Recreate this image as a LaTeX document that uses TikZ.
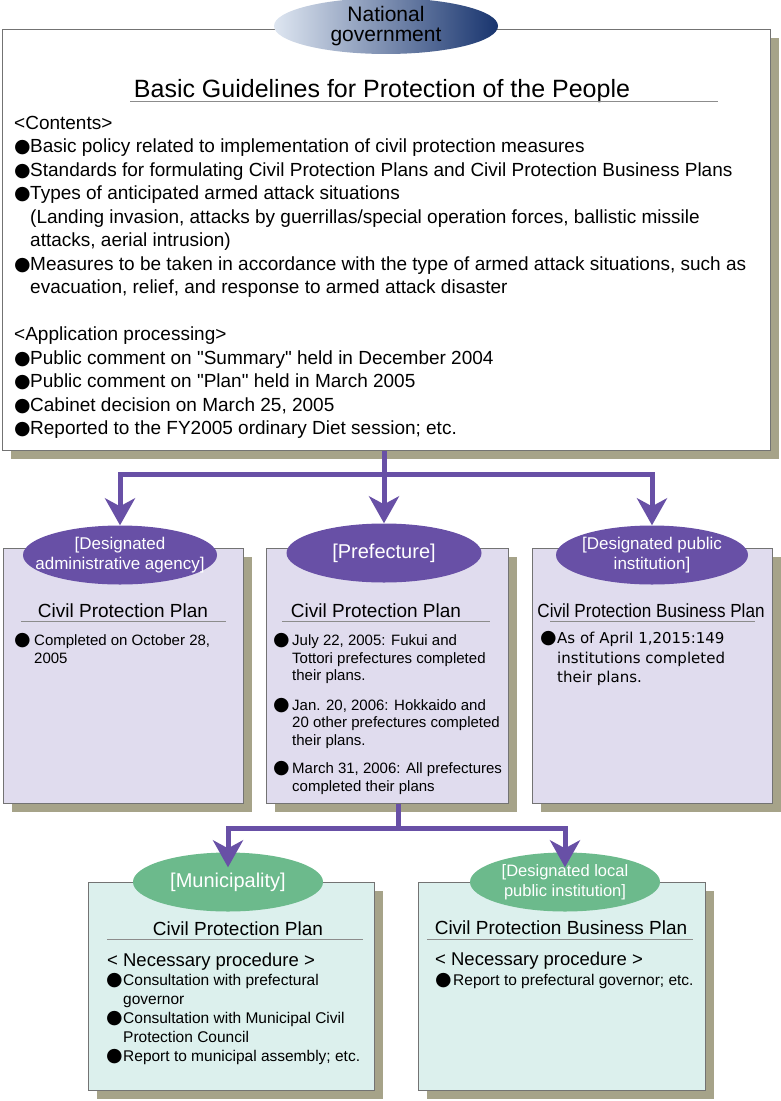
\documentclass[tikz,border=0pt]{standalone}
\usepackage{fontspec}
\setmainfont{Liberation Sans}
\newfontfamily\symfont{DejaVu Sans}
\newfontfamily\verdfont{DejaVu Sans}
\newfontfamily\narrowfont[FakeStretch=0.9]{Liberation Sans}
\usetikzlibrary{arrows.meta}
\usetikzlibrary{shadows}
\usetikzlibrary{shapes.geometric}
\usetikzlibrary{positioning}

\definecolor{flowpurple}{RGB}{104,80,166}
\definecolor{lavender}{RGB}{224,220,238}
\definecolor{paleteal}{RGB}{220,240,237}
\definecolor{leafgreen}{RGB}{108,186,140}
\definecolor{olivegray}{RGB}{166,163,137}
\definecolor{natlight}{RGB}{222,230,241}
\definecolor{natmid}{RGB}{140,165,200}
\definecolor{natdark}{RGB}{24,52,110}

\newcommand{\fsz}[2]{\fontsize{#1}{#2}\selectfont}
\newcommand{\blt}[1]{\makebox[#1][l]{\smash{\fsz{19}{19}\symfont ●}}}
\newcommand{\lineprop}{\rule{0pt}{1em}}

\begin{document}
\begin{tikzpicture}[x=1pt,y=-1pt,
  panel/.style={draw=black!55,line width=0.6pt,anchor=north west,inner sep=0pt,
    drop shadow={opacity=1,fill=olivegray,shadow xshift=9pt,shadow yshift=-9pt}},
  badge/.style={ellipse,draw=none,inner sep=0pt,align=center,text=white,font=\fsz{17}{20}},
  flow/.style={flowpurple,line width=5pt},
  flowarrow/.style={flow,-{Stealth[length=27pt,width=30pt,inset=8pt]}},
  txt/.style={inner sep=0pt,anchor=north west,align=left},
  titlerule/.style={draw=black!45,line width=0.8pt}]
\useasboundingbox (0,0) rectangle (780,1101);

\node[panel,fill=white,minimum width=768pt,minimum height=421pt] (natbox) at (2,29) {};
\node[ellipse,minimum width=224pt,minimum height=53pt,inner sep=0pt,align=center,
  left color=natlight,middle color=natmid,right color=natdark,font=\fsz{21}{20}] (nat) at (386,26) {National\\government};

\node[font=\fsz{25}{30},anchor=base,inner sep=0pt] (guidetitle) at (382,97) {Basic Guidelines for Protection of the People};
\draw[titlerule] (130,101) -- (718,101);
\node[txt,font=\fsz{19}{23.5}] (contents) at (14,110) {\lineprop<Contents>\\
\blt{16pt}Basic policy related to implementation of civil protection measures\\
\blt{16pt}Standards for formulating Civil Protection Plans and Civil Protection Business Plans\\
\blt{16pt}Types of anticipated armed attack situations\\
\hspace*{16pt}(Landing invasion, attacks by guerrillas/special operation forces, ballistic missile\\
\hspace*{16pt}attacks, aerial intrusion)\\
\blt{16pt}Measures to be taken in accordance with the type of armed attack situations, such as\\
\hspace*{16pt}evacuation, relief, and response to armed attack disaster\\[23.5pt]
<Application processing>\\
\blt{16pt}Public comment on \textquotedbl Summary\textquotedbl\ held in December 2004\\
\blt{16pt}Public comment on \textquotedbl Plan\textquotedbl\ held in March 2005\\
\blt{16pt}Cabinet decision on March 25, 2005\\
\blt{16pt}Reported to the FY2005 ordinary Diet session; etc.};

\node[panel,fill=lavender,minimum width=240pt,minimum height=255pt] (admbox) at (3,548) {};
\node[panel,fill=lavender,minimum width=242pt,minimum height=255pt] (prefbox) at (266,548) {};
\node[panel,fill=lavender,minimum width=240pt,minimum height=255pt] (pubbox) at (532,548) {};

\node[badge,fill=flowpurple,minimum width=194pt,minimum height=59pt,inner xsep=-16pt] (adm) at (120,555) {[Designated\\administrative agency]};
\node[badge,fill=flowpurple,minimum width=195pt,minimum height=59pt,font=\fsz{20}{22}] (pref) at (384,553) {[Prefecture]};
\node[badge,fill=flowpurple,minimum width=192pt,minimum height=59pt,inner xsep=-5pt] (pub) at (652,555) {[Designated public\\institution]};

\node[font=\fsz{19}{22},anchor=base,inner sep=0pt] (admtitle) at (123,617) {Civil Protection Plan};
\draw[titlerule] (21,621) -- (226,621);
\node[txt,font=\fsz{15}{18}] (admlist) at (14,630.5) {\lineprop\blt{20pt}Completed on October 28,\\
\hspace*{20pt}2005};

\node[font=\fsz{19}{22},anchor=base,inner sep=0pt] (preftitle) at (376,617) {Civil Protection Plan};
\draw[titlerule] (282,621) -- (490,621);
\node[txt,font=\fsz{15}{17.5}] (preflist) at (273,630.5) {\lineprop\blt{19pt}July 22, 2005: Fukui and\\
\hspace*{19pt}Tottori prefectures completed\\
\hspace*{19pt}their plans.\\[12pt]
\blt{19pt}Jan. 20, 2006: Hokkaido and\\
\hspace*{19pt}20 other prefectures completed\\
\hspace*{19pt}their plans.\\[11pt]
\blt{19pt}March 31, 2006: All prefectures\\
\hspace*{19pt}completed their plans};

\node[font=\narrowfont\fsz{19}{22},anchor=base,inner sep=0pt] (pubtitle) at (651,617) {Civil Protection Business Plan};
\draw[titlerule] (550,621) -- (755,621);
\node[txt,font=\verdfont\fsz{15}{19.5}] (publist) at (540,628.5) {\lineprop\blt{17pt}As of April 1,2015:149\\
\hspace*{17pt}institutions completed\\
\hspace*{17pt}their plans.};

\node[panel,fill=paleteal,minimum width=286pt,minimum height=208pt] (munbox) at (88,882) {};
\node[panel,fill=paleteal,minimum width=287pt,minimum height=208pt] (locbox) at (418,882) {};

\node[badge,fill=leafgreen,minimum width=190pt,minimum height=59pt,font=\fsz{20}{22}] (mun) at (228,882) {[Municipality]};
\node[badge,fill=leafgreen,minimum width=190pt,minimum height=59pt,font=\fsz{16.5}{20}] (loc) at (565,882) {[Designated local\\public institution]};

\node[font=\fsz{19}{22},anchor=base,inner sep=0pt] (muntitle) at (238,935) {Civil Protection Plan};
\draw[titlerule] (107,939) -- (363,939);
\node[font=\fsz{18.5}{22},anchor=base west,inner sep=0pt] (munproc) at (107,966.5) {< Necessary procedure >};
\node[txt,font=\fsz{15.5}{19}] (munlist) at (106,970) {\lineprop\blt{17pt}Consultation with prefectural\\
\hspace*{17pt}governor\\
\blt{17pt}Consultation with Municipal Civil\\
\hspace*{17pt}Protection Council\\
\blt{17pt}Report to municipal assembly; etc.};

\node[font=\fsz{19}{22},anchor=base,inner sep=0pt] (loctitle) at (561,934) {Civil Protection Business Plan};
\draw[titlerule] (427,939) -- (693,939);
\node[font=\fsz{18.5}{22},anchor=base west,inner sep=0pt] (locproc) at (435,965) {< Necessary procedure >};
\node[font=\fsz{15.5}{19},anchor=base west,inner sep=0pt] (loclist) at (435,985) {\blt{18pt}Report to prefectural governor; etc.};

\coordinate (fork) at (384,474);
\draw[flow] (fork |- natbox.south) -- (fork);
\draw[flowarrow] (fork) -| (adm.north);
\draw[flowarrow] (fork) -- (pref.north);
\draw[flowarrow] (fork) -| (pub.north);

\coordinate (fork2) at (398,828);
\draw[flow] (fork2 |- prefbox.south) -- (fork2);
\draw[flowarrow,shorten >=-15pt] (fork2) -| (mun.north);
\draw[flowarrow,shorten >=-15pt] (fork2) -| (loc.north);

\end{tikzpicture}
\end{document}
